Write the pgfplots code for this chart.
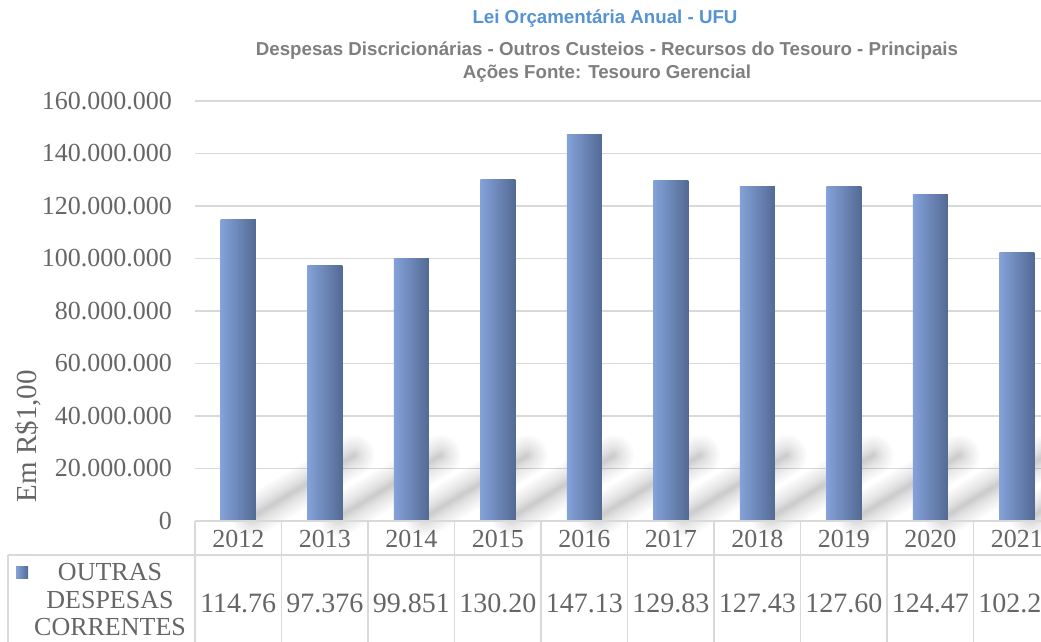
\documentclass[border=0pt]{standalone}
\usepackage{fontspec}
\setmainfont{Liberation Serif}
\newfontfamily\titlefont{Liberation Sans}
\usepackage{pgfplots}
\usepackage{pgfplotstable}
\pgfplotsset{compat=1.18}
\definecolor{titleblue}{HTML}{5593D3}
\definecolor{subgray}{HTML}{7F7F7F}
\definecolor{tickgray}{HTML}{666666}
\definecolor{gridgray}{HTML}{D9D9D9}
\definecolor{barL}{HTML}{84A2DA}
\definecolor{barR}{HTML}{536A93}
\pgfplotstableread{
x y
0.16 1500000
1.34 25000000
1.5 nan
1.16 1500000
2.34 25000000
2.5 nan
2.16 1500000
3.34 25000000
3.5 nan
3.16 1500000
4.34 25000000
4.5 nan
4.16 1500000
5.34 25000000
5.5 nan
5.16 1500000
6.34 25000000
6.5 nan
6.16 1500000
7.34 25000000
7.5 nan
7.16 1500000
8.34 25000000
8.5 nan
8.16 1500000
9.34 25000000
9.5 nan
9.16 1500000
10.34 25000000
}\shadowtab
\pgfplotsset{gbar/.style={ybar, bar width=35pt, draw=none, left color=barL, right color=barR}}
\begin{document}
\begin{tikzpicture}
\useasboundingbox (0,0) rectangle (1041pt,-642pt);
\clip (0,0) rectangle (1041pt,-642pt);
\fill[white] (0,0) rectangle (1041pt,-642pt);
\begin{axis}[
  at={(195pt,-521pt)}, anchor=south west,
  scale only axis, width=865pt, height=420pt,
  xmin=-0.5, xmax=9.5, ymin=0, ymax=160000000,
  axis line style={draw=none},
  ytick distance=20000000,
  scaled y ticks=false,
  /pgf/number format/.cd, 1000 sep={.}, fixed, precision=0, assume math mode=true,
  /pgfplots/.cd,
  ymajorgrids, grid style={gridgray, line width=1.5pt},
  tick style={draw=none},
  yticklabel style={font=\fontsize{26}{30}\selectfont, text=tickgray, anchor=east, inner sep=0pt, xshift=-23pt},
  xtick={0,...,9},
  xticklabels={2012,2013,2014,2015,2016,2017,2018,2019,2020,2021},
  xticklabel style={font=\fontsize{26}{30}\selectfont, text=tickgray, anchor=center, yshift=-18pt},
  ylabel={Em R\$1,00},
  ylabel style={at={(rel axis cs:-0.1931,0.202)}, anchor=center, font=\fontsize{29}{32}\selectfont, text=tickgray},
  clip=false,
  unbounded coords=jump,
]
% soft diagonal shadows behind the bars
\pgfplotsinvokeforeach{40,35,30,25,20,16,12,9,6,3}{
\addplot[forget plot, black, opacity=0.018, line width=#1pt, line cap=round] table {\shadowtab};
}
\addplot[gbar] coordinates {(0,114760000)};
\addplot[gbar] coordinates {(1,97376000)};
\addplot[gbar] coordinates {(2,99851000)};
\addplot[gbar] coordinates {(3,130200000)};
\addplot[gbar] coordinates {(4,147130000)};
\addplot[gbar] coordinates {(5,129830000)};
\addplot[gbar] coordinates {(6,127430000)};
\addplot[gbar] coordinates {(7,127600000)};
\addplot[gbar] coordinates {(8,124470000)};
\addplot[gbar] coordinates {(9,102220000)};
\end{axis}
% data table
\begin{scope}[gridgray, line width=1.5pt]
\draw (195pt,-521pt) -- (1070pt,-521pt);
\draw (8pt,-555pt) -- (1070pt,-555pt);
\foreach \k in {0,...,10} \draw (195pt+86.5pt*\k,-521pt) -- ++(0,-140pt);
\draw (8pt,-555pt) -- (8pt,-660pt);
\end{scope}
\fill[left color=barL, right color=barR] (16pt,-566pt) rectangle (28pt,-578pt);
\node[font=\fontsize{26}{27.5}\selectfont, text=tickgray, align=center, inner sep=0pt] at (110pt,-600pt) {OUTRAS\\DESPESAS\\CORRENTES};
\foreach \v [count=\k from 0] in {114.76,97.376,99.851,130.20,147.13,129.83,127.43,127.60,124.47,102.22}
  \node[font=\fontsize{28}{30}\selectfont, text=tickgray, inner sep=0pt] at (238.25pt+86.5pt*\k,-603pt) {\v};
% titles
\node[font=\titlefont\bfseries\fontsize{18.7}{22}\selectfont, text=titleblue] at (605pt,-19pt) {Lei Orçamentária Anual - UFU};
\node[font=\titlefont\bfseries\fontsize{18.7}{23}\selectfont, text=subgray, align=center] at (607pt,-62.5pt) {Despesas Discricionárias - Outros Custeios - Recursos do Tesouro - Principais\\Ações Fonte: Tesouro Gerencial};
\end{tikzpicture}
\end{document}
